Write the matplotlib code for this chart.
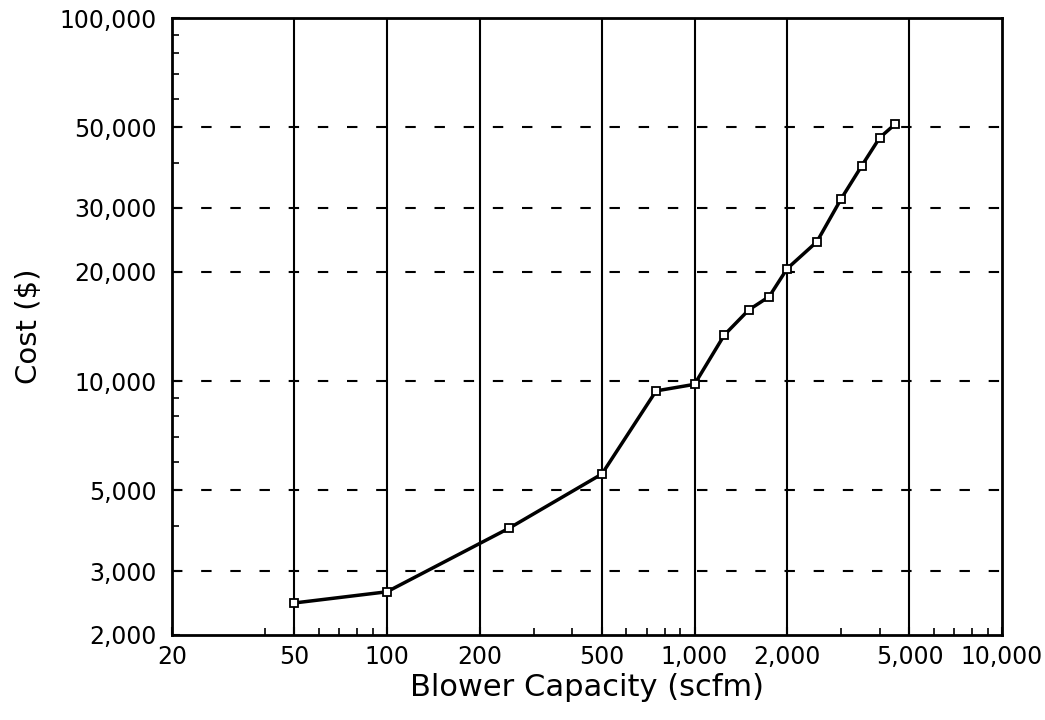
import matplotlib
matplotlib.use('Agg')
import matplotlib.pyplot as plt
from matplotlib.ticker import FixedLocator, FuncFormatter, NullFormatter

# blower capacity (scfm) vs cost ($)
capacity = [50, 100, 250, 500, 750, 1000, 1250, 1500, 1750, 2000, 2500, 3000, 3500, 4000, 4500]
cost = [2450, 2630, 3940, 5550, 9400, 9800, 13400, 15700, 17100, 20400, 24200, 31800, 39200, 46800, 51100]

x_major = [20, 50, 100, 200, 500, 1000, 2000, 5000, 10000]
x_minor = [40, 60, 70, 80, 90, 300, 400, 600, 700, 800, 900, 3000, 4000, 6000, 7000, 8000, 9000]
y_major = [2000, 3000, 5000, 10000, 20000, 30000, 50000, 100000]
y_minor = [4000, 6000, 7000, 8000, 9000, 40000, 60000, 70000, 80000, 90000]
x_grid = [50, 100, 200, 500, 1000, 2000, 5000]
y_grid = [3000, 5000, 10000, 20000, 30000, 50000]

plt.rcParams['font.family'] = ['DejaVu Sans']

fig = plt.figure(figsize=(10.45, 7.2), dpi=100)
ax = fig.add_axes([0.1646, 0.1181, 0.7943, 0.8569])

ax.set_xscale('log')
ax.set_yscale('log')
ax.set_xlim(20, 10000)
ax.set_ylim(2000, 100000)

for xv in x_grid:
    ax.axvline(xv, color='black', lw=1.5, zorder=1)
for yv in y_grid:
    ax.axhline(yv, color='black', lw=1.5, ls=(0, (5, 9)), zorder=1)

ax.plot(capacity, cost, color='black', lw=2.5, marker='s', ms=6,
        mfc='white', mec='black', mew=1.3, zorder=3)

fmt = FuncFormatter(lambda v, p: f'{int(round(v)):,}')
ax.xaxis.set_major_locator(FixedLocator(x_major))
ax.xaxis.set_minor_locator(FixedLocator(x_minor))
ax.yaxis.set_major_locator(FixedLocator(y_major))
ax.yaxis.set_minor_locator(FixedLocator(y_minor))
ax.xaxis.set_major_formatter(fmt)
ax.yaxis.set_major_formatter(fmt)
ax.xaxis.set_minor_formatter(NullFormatter())
ax.yaxis.set_minor_formatter(NullFormatter())

ax.tick_params(which='major', direction='in', length=6, width=1.5, labelsize=17)
ax.tick_params(axis='x', which='major', pad=7)
ax.tick_params(axis='y', which='major', pad=11)
ax.tick_params(which='minor', direction='in', length=5, width=1.2)

for s in ax.spines.values():
    s.set_linewidth(2)

ax.set_xlabel('Blower Capacity (scfm)', fontsize=22, labelpad=3)
ax.set_ylabel('Cost ($)', fontsize=21, labelpad=12)

fig.savefig('out.png', dpi=100)
